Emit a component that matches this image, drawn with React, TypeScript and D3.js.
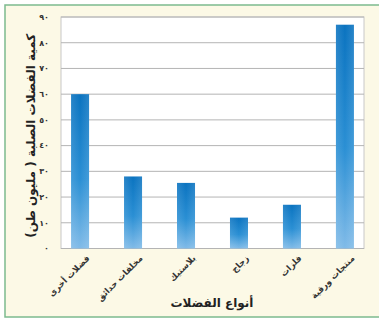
import React from "react";
import * as d3 from "d3";

const categories = ["فضلات أخرى", "مخلفات حدائق", "بلاستيك", "زجاج", "فلزات", "منتجات ورقية"];
const values = [60, 28, 25.5, 12, 17, 87];
const tickValues = [0, 10, 20, 30, 40, 50, 60, 70, 80, 90];
const tickLabels = ["٠", "١٠", "٢٠", "٣٠", "٤٠", "٥٠", "٦٠", "٧٠", "٨٠", "٩٠"];
const yTitle = "كمية الفضلات الصلبة ( مليون طن)";
const xTitle = "أنواع الفضلات";

const W = 379, H = 323;
const plot = { left: 61, right: 364, top: 17, bottom: 248.5 };

export default function App() {
  const x = d3.scaleBand<string>().domain(categories).range([plot.left, plot.right]).paddingInner(0.66).paddingOuter(0.19);
  const y = d3.scaleLinear().domain([0, 90]).range([plot.bottom, plot.top]);
  const font = "'DejaVu Sans', 'Noto Sans', sans-serif";
  return (
    <svg width={W} height={H} style={{ position: "absolute", left: 0, top: 0 }}>
      <defs>
        <linearGradient id="barGrad" x1="0" y1="0" x2="0" y2="1">
          <stop offset="0%" stopColor="#0a73c0" />
          <stop offset="55%" stopColor="#2a8fd4" />
          <stop offset="100%" stopColor="#80bbe8" />
        </linearGradient>
        <linearGradient id="barGradH" x1="0" y1="0" x2="1" y2="0">
          <stop offset="0%" stopColor="#ffffff" stopOpacity="0.12" />
          <stop offset="50%" stopColor="#ffffff" stopOpacity="0" />
          <stop offset="100%" stopColor="#ffffff" stopOpacity="0.12" />
        </linearGradient>
      </defs>
      <rect x={0} y={0} width={W} height={H} fill="#ffffff" />
      <rect x={5} y={5} width={W} height={312} fill="#fcf9e6" stroke="#7cba8e" strokeWidth={1.5} />
      <rect x={plot.left} y={plot.top} width={plot.right - plot.left} height={plot.bottom - plot.top} fill="#ffffff" stroke="#c8c8c8" strokeWidth={1} />
      {tickValues.map((t) => (
        <line key={"g" + t} x1={plot.left} x2={plot.right} y1={y(t)} y2={y(t)} stroke="#b4b4b4" strokeWidth={1} />
      ))}
      {tickValues.map((t, i) => (
        <text key={"t" + t} x={plot.left - 12} y={y(t)} dy="0.35em" textAnchor="end" fontSize={8} fontWeight="bold" fill="#333" fontFamily={font}>
          {tickLabels[i]}
        </text>
      ))}
      {categories.map((c, i) => (
        <g key={c}>
          <rect x={x(c)} y={y(values[i])} width={x.bandwidth()} height={plot.bottom - y(values[i])} fill="url(#barGrad)" />
          <rect x={x(c)} y={y(values[i])} width={x.bandwidth()} height={plot.bottom - y(values[i])} fill="url(#barGradH)" />
        </g>
      ))}
      {categories.map((c) => {
        const cx = (x(c) as number) + x.bandwidth() / 2 + 6;
        const cy = plot.bottom + 6;
        return (
          <text key={"l" + c} x={cx} y={cy} dy="0.7em" transform={`rotate(-45 ${cx} ${cy})`} textAnchor="end" fontSize={8.5} fontWeight="bold" fill="#333" fontFamily={font}>
            {c}
          </text>
        );
      })}
      <text x={212} y={307} textAnchor="middle" fontSize={12} fontWeight="bold" fill="#222" fontFamily={font}>{xTitle}</text>
      <text transform={`translate(31 ${(plot.top + plot.bottom) / 2 + 3}) rotate(-90)`} textAnchor="middle" dy="0.35em" fontSize={12} fontWeight="bold" fill="#222" fontFamily={font}>{yTitle}</text>
    </svg>
  );
}
